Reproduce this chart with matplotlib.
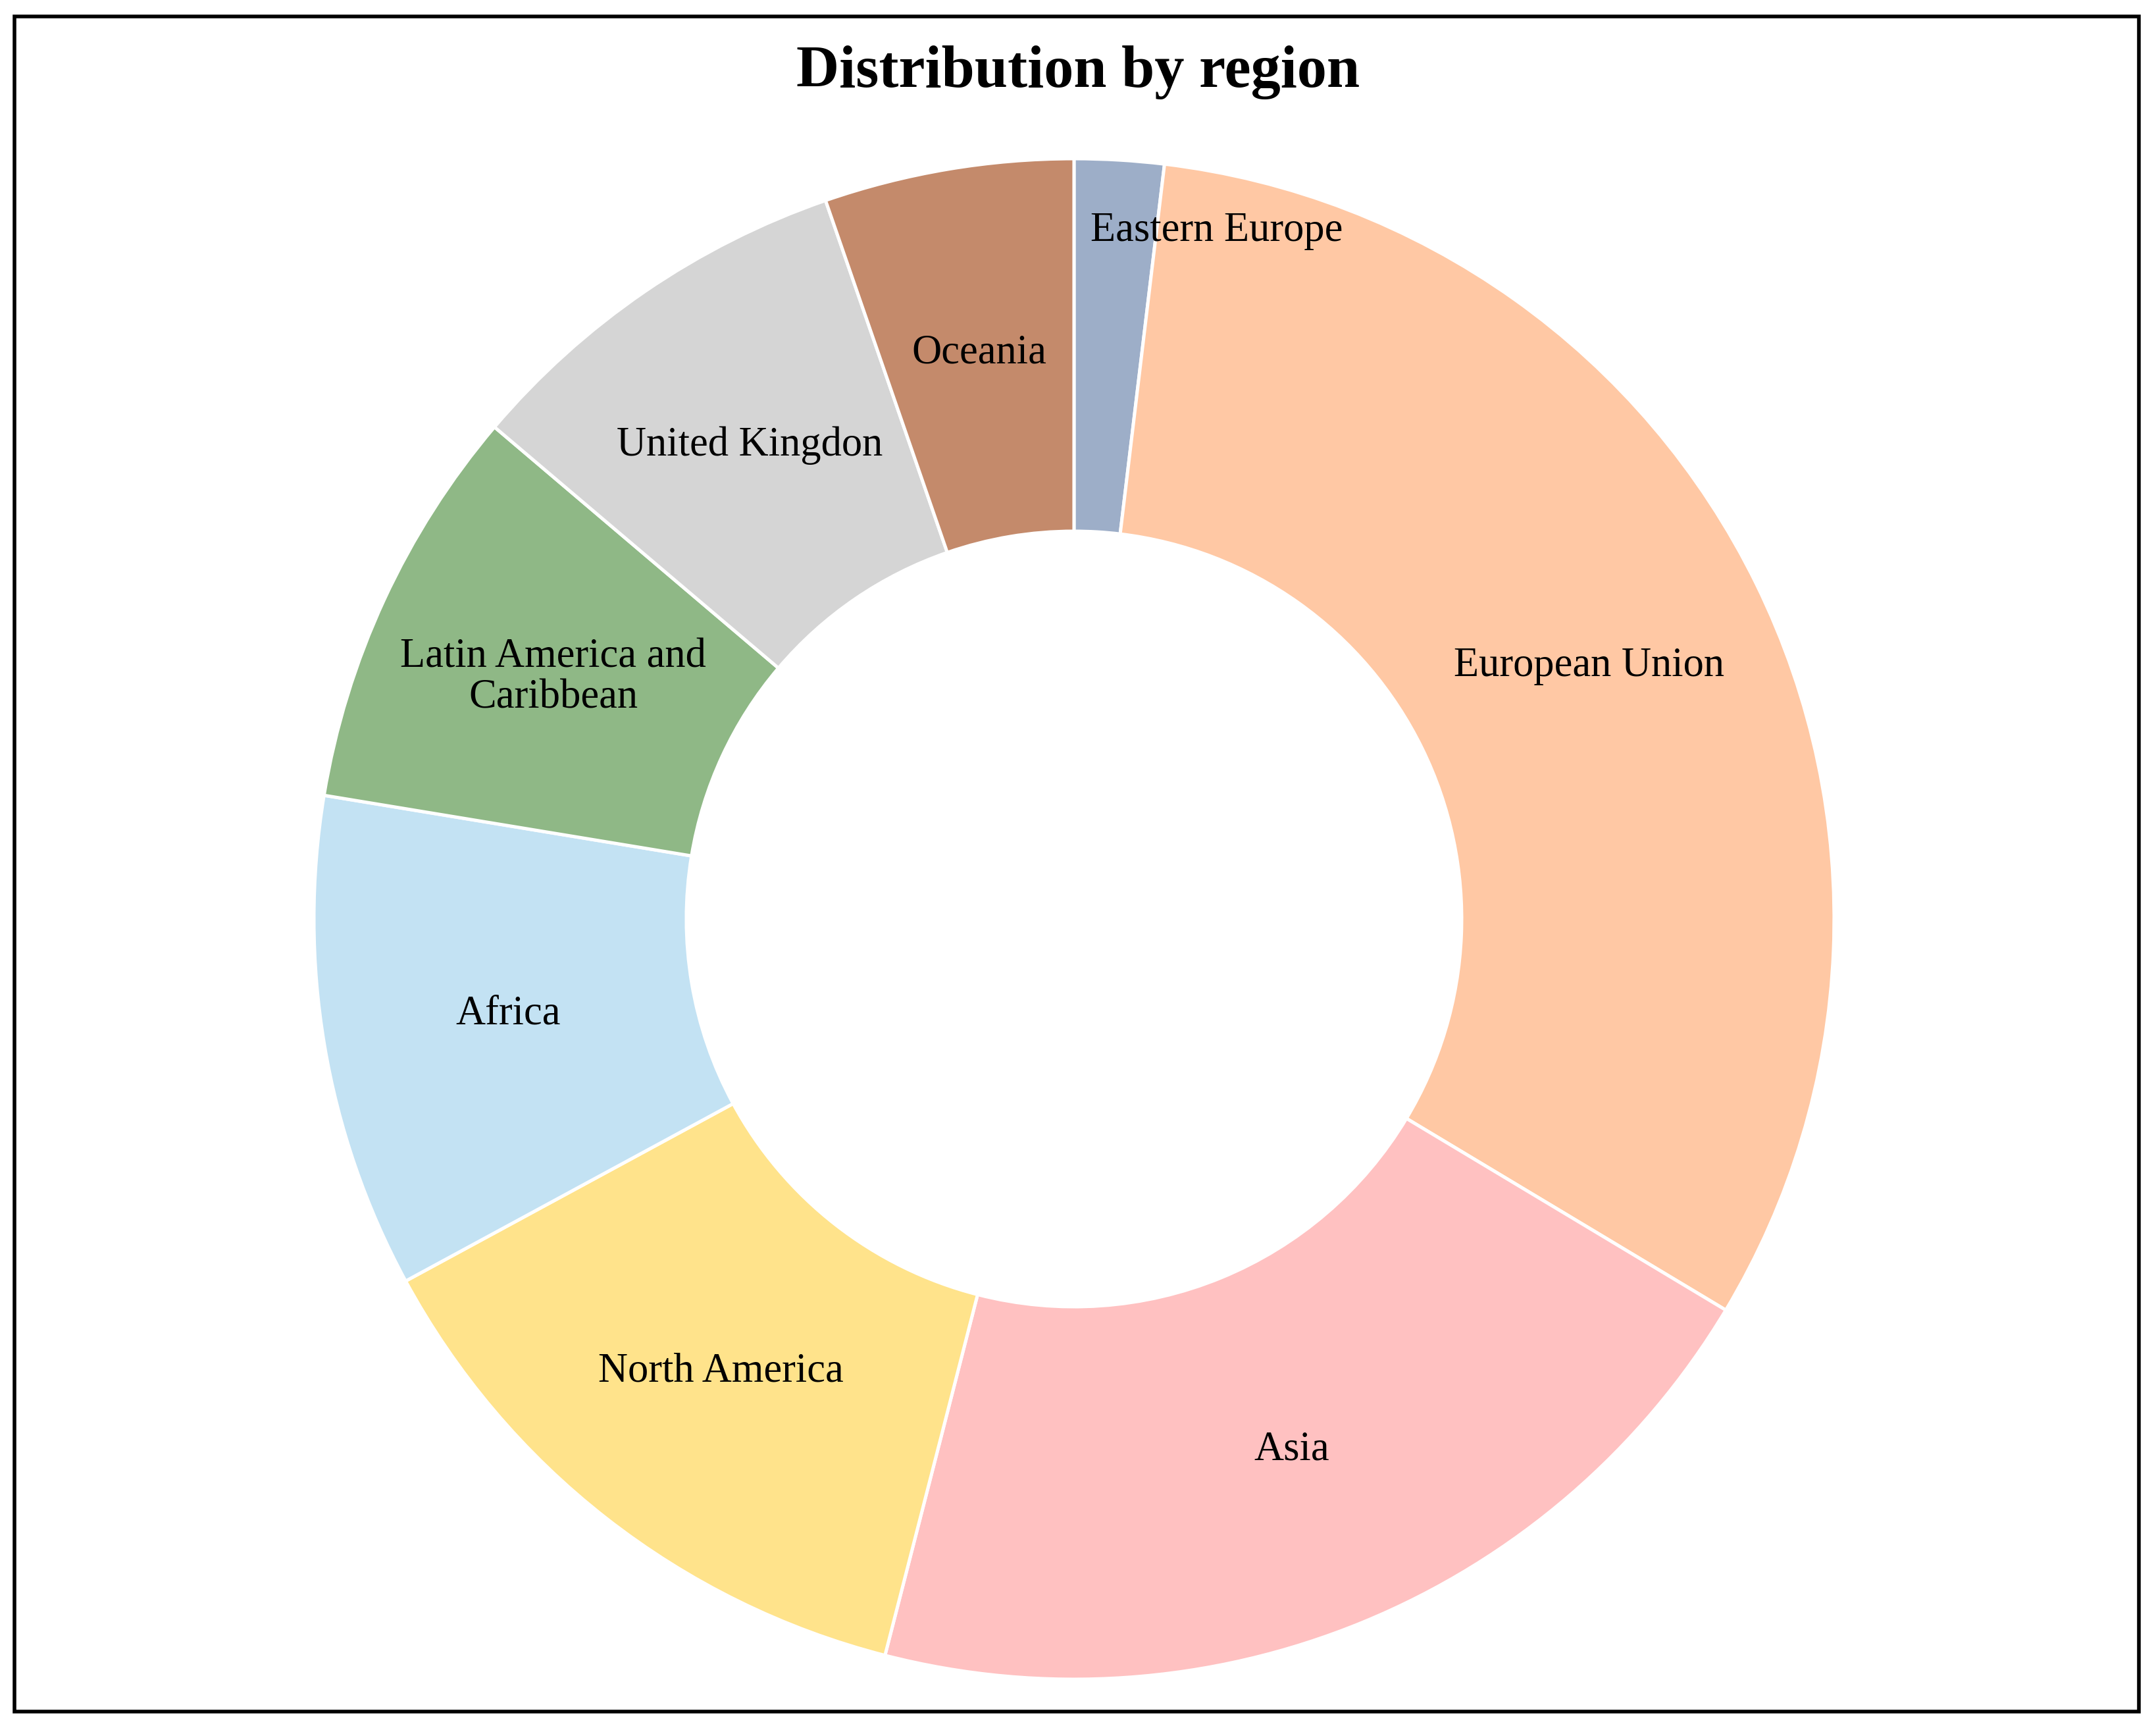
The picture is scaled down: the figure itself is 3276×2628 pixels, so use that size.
import numpy as np
import matplotlib.pyplot as plt
from matplotlib.patches import Rectangle

regions = ["Eastern Europe", "European Union", "Asia", "North America", "Africa",
           "Latin America and\nCaribbean", "United Kingdon", "Oceania"]
shares = [1.9, 31.7, 20.4, 13.1, 10.5, 8.6, 8.5, 5.3]
colors = ["#9DAEC8", "#FFC8A4", "#FFC1C1", "#FFE38B", "#C3E2F3",
          "#8FB886", "#D5D5D5", "#C48A6B"]

plt.rcParams['font.family'] = ['Liberation Serif', 'DejaVu Serif']

fig = plt.figure(figsize=(16.38, 13.14), dpi=200)

# outer frame
fig.patches.append(Rectangle((0.0067, 0.0105), 0.9853, 0.980, transform=fig.transFigure,
                             fill=False, edgecolor="black", linewidth=2.0))

ax = fig.add_axes([0.1456, 0.0293, 0.7051, 0.879])
wedges, _ = ax.pie(shares, colors=colors, startangle=90, counterclock=False,
                   radius=1.0, wedgeprops=dict(width=0.49, edgecolor="white", linewidth=1.8))
ax.set_xlim(-1, 1)
ax.set_ylim(-1, 1)
ax.set_aspect("equal")
ax.axis("off")

for w, lab in zip(wedges, regions):
    mid = np.deg2rad((w.theta1 + w.theta2) / 2)
    if lab == "Eastern Europe":
        # too narrow, label pushed outward and to the right
        ax.text(0.022, 0.905, lab, ha="left", va="center", fontsize=22.5)
        continue
    r = 0.755
    ax.text(r * np.cos(mid), r * np.sin(mid), lab, ha="center", va="center",
            fontsize=22.5, linespacing=1.1)

fig.text(0.5, 0.958, "Distribution by region", ha="center", va="center",
         fontsize=32.5, fontweight="bold")

fig.savefig("out.png", dpi=200)
